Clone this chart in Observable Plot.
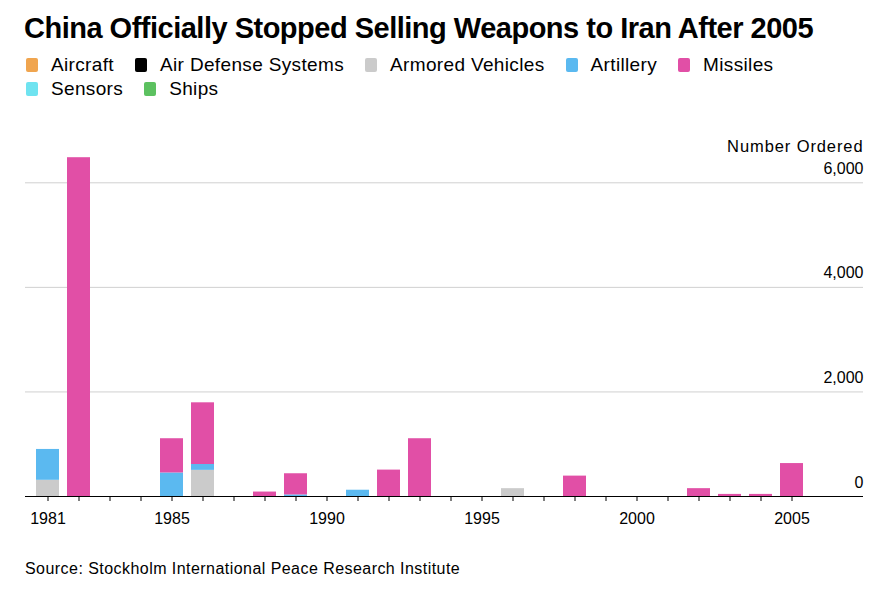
<!DOCTYPE html>
<html>
<head>
<meta charset="utf-8">
<script src="https://cdn.jsdelivr.net/npm/d3@7"></script>
<script src="https://cdn.jsdelivr.net/npm/@observablehq/plot@0.6"></script>
<style>
  body { margin: 0; background: #fff; font-family: "Liberation Sans", Arial, sans-serif; color: #000; }
  #wrap { width: 891px; }
  h1 { margin: 12px 0 0 24px; font-size: 29px; line-height: 33px; font-weight: 700; letter-spacing: -0.5px; white-space: nowrap; }
  .legend { margin: 8px 0 0 26px; width: 790px; display: flex; flex-wrap: wrap; font-size: 19px; letter-spacing: 0.35px; line-height: 24px; }
  .item { display: flex; align-items: center; margin-right: 21px; }
  .sw { width: 12px; height: 14px; border-radius: 2px; margin-right: 13px; }
  #chart svg { display: block; }
  #chart { margin-top: 8px; }
  .source { margin: 20px 0 0 25px; font-size: 16px; letter-spacing: 0.45px; line-height: 20px; }
</style>
</head>
<body>
<div id="wrap">
  <h1>China Officially Stopped Selling Weapons to Iran After 2005</h1>
  <div class="legend" id="legend"></div>
  <div id="chart"></div>
  <div class="source">Source: Stockholm International Peace Research Institute</div>
</div>
<script>
// ---- Data ----
const years = [1981, 1982, 1983, 1984, 1985, 1986, 1987, 1988, 1989, 1990,
               1991, 1992, 1993, 1994, 1995, 1996, 1997, 1998, 1999, 2000,
               2001, 2002, 2003, 2004, 2005];
const labelYears = [1981, 1985, 1990, 1995, 2000, 2005];
const yTicks = [0, 2000, 4000, 6000];
const categories = ["Aircraft", "Air Defense Systems", "Armored Vehicles", "Artillery", "Missiles", "Sensors", "Ships"];
const colors = ["#f0a54f", "#000000", "#cbcbcb", "#5bb9f0", "#e14fa6", "#6fe3f0", "#5cc160"];

//                   81    82 83 84   85    86 87  88   89 90   91   92    93 94 95   96 97   98 99 00 01   02  03  04   05
const aircraft    = [  0,    0, 0, 0,   0,    0, 0,  0,   0, 0,   0,   0,    0, 0, 0,   0, 0,   0, 0, 0, 0,   0,  0,  0,   0];
const airDefense  = [  0,    0, 0, 0,   0,    0, 0,  0,   0, 0,   0,   0,    0, 0, 0,   0, 0,   0, 0, 0, 0,   0,  0,  0,   0];
const armored     = [310,    0, 0, 0,   0,  500, 0,  0,   0, 0,   0,   0,    0, 0, 0, 150, 0,   0, 0, 0, 0,   0,  0,  0,   0];
const artillery   = [590,    0, 0, 0, 450,  112, 0,  0,  30, 0, 120,   0,    0, 0, 0,   0, 0,   0, 0, 0, 0,   0,  0,  0,   0];
const missiles    = [  0, 6480, 0, 0, 655, 1180, 0, 85, 405, 0,   0, 505, 1105, 0, 0,   0, 0, 390, 0, 0, 0, 150, 40, 40, 630];
const sensors     = [  0,    0, 0, 0,   0,    0, 0,  0,   0, 0,   0,   0,    0, 0, 0,   0, 0,   0, 0, 0, 0,   0,  0,  0,   0];
const ships       = [  0,    0, 0, 0,   0,    0, 0,  0,   0, 0,   0,   0,    0, 0, 0,   0, 0,   0, 0, 0, 0,   0,  0,  0,   0];

const series = [aircraft, airDefense, armored, artillery, missiles, sensors, ships];
const table = [];
categories.forEach((c, ci) => {
  years.forEach((y, yi) => table.push({year: y, category: c, value: series[ci][yi]}));
});

// ---- Legend ----
const legend = document.getElementById("legend");
categories.forEach((c, i) => {
  const item = document.createElement("div");
  item.className = "item";
  const sw = document.createElement("span");
  sw.className = "sw";
  sw.style.background = colors[i];
  const t = document.createElement("span");
  t.textContent = c;
  item.appendChild(sw);
  item.appendChild(t);
  legend.appendChild(item);
});

// ---- Chart ----
const chart = Plot.plot({
  width: 891,
  height: 430,
  marginLeft: 25,
  marginRight: 28,
  marginTop: 73.3,
  marginBottom: 43,
  style: { fontFamily: "Liberation Sans, Arial, sans-serif", fontSize: "16px", color: "#000", background: "#fff" },
  x: { type: "band", domain: years, range: [25, 813.3], paddingInner: 0.26, paddingOuter: 0.305, label: null },
  y: { domain: [0, 6000], label: null },
  color: { domain: categories, range: colors },
  marks: [
    Plot.gridY(yTicks.filter(d => d > 0), { stroke: "#d0d0d0", strokeOpacity: 1, strokeWidth: 1 }),
    Plot.barY(table, { x: "year", y: "value", fill: "category", order: categories }),
    Plot.ruleY([0], { stroke: "#000", strokeWidth: 1.2 }),
    Plot.axisX({ ticks: years, tickSize: 5, tickFormat: () => "", stroke: "#000" }),
    Plot.axisX({ ticks: labelYears, tickSize: 0, tickPadding: 16, tickFormat: d => String(d), fontSize: 16, fill: "#000" }),
    Plot.axisY({ ticks: yTicks, anchor: "right", tickSize: 0, tickPadding: 0, textAnchor: "end", dy: -14, tickFormat: d3.format(","), fontSize: 16, fill: "#000" }),
    Plot.text(["Number Ordered"], { frameAnchor: "top-right", lineAnchor: "middle", dy: -36, textAnchor: "end", fontSize: 16.5, fill: "#000" })
  ]
});
d3.select(chart).selectAll("text")
  .filter(function () { return this.textContent === "Number Ordered"; })
  .style("letter-spacing", "0.9px");
document.getElementById("chart").appendChild(chart);
</script>
</body>
</html>
